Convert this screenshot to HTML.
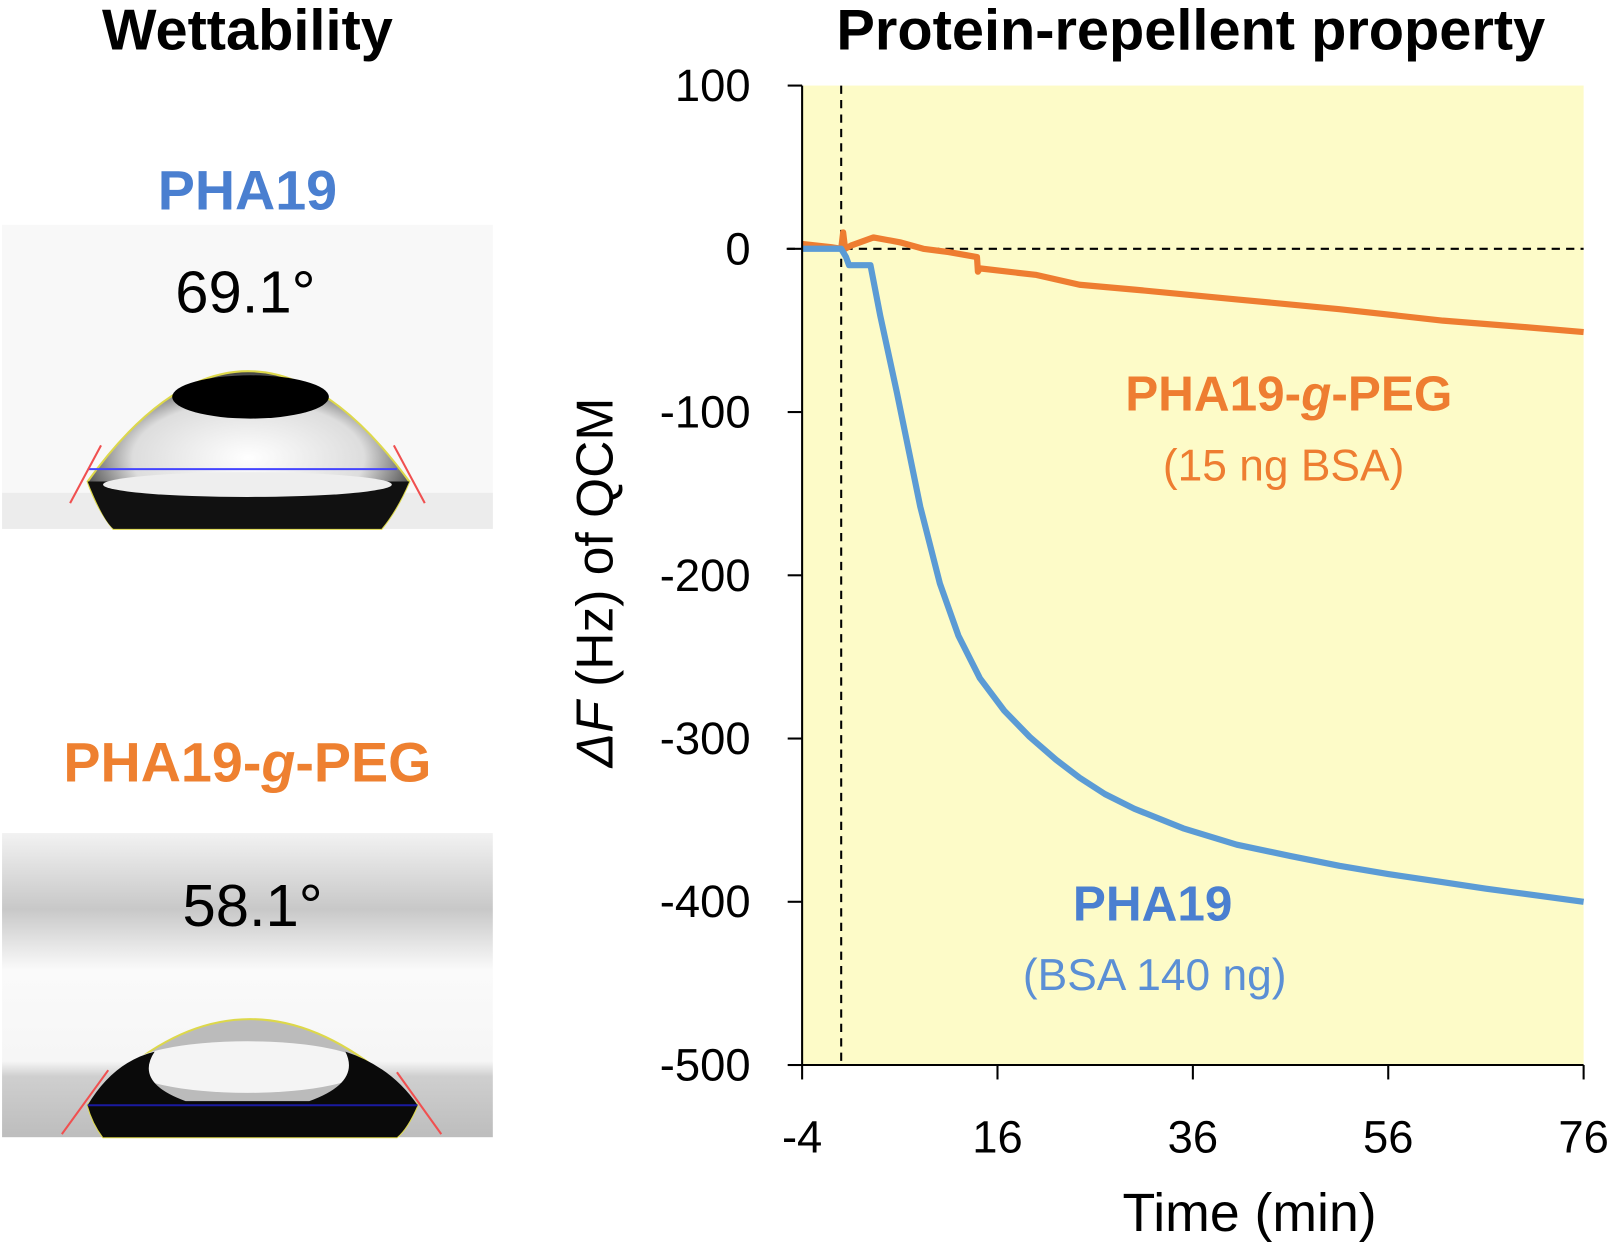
<!DOCTYPE html>
<html><head><meta charset="utf-8"><style>
body{margin:0;background:#fff;width:1615px;height:1248px;overflow:hidden}
svg{display:block;font-family:"Liberation Sans",sans-serif}
</style></head><body>
<svg width="1615" height="1248" viewBox="0 0 1615 1248">
<defs>
<radialGradient id="drop1" cx="0.5" cy="0.55" r="0.6"><stop offset="0" stop-color="#fff"/><stop offset="0.6" stop-color="#ddd"/><stop offset="1" stop-color="#111"/></radialGradient>
<linearGradient id="bg2" x1="0" y1="0" x2="0" y2="1"><stop offset="0" stop-color="#f2f2f2"/><stop offset="0.25" stop-color="#c8c8c8"/><stop offset="0.45" stop-color="#fafafa"/><stop offset="0.75" stop-color="#f6f6f6"/><stop offset="0.8" stop-color="#cfcfcf"/><stop offset="1" stop-color="#bdbdbd"/></linearGradient>
</defs>
<g transform="scale(1.031)">
<text x="240" y="48" text-anchor="middle" font-size="56" font-weight="bold">Wettability</text>
<text x="1155" y="48" text-anchor="middle" font-size="56" font-weight="bold">Protein-repellent property</text>
<text x="240" y="203" text-anchor="middle" font-size="54" font-weight="bold" fill="#4a7fd0">PHA19</text>
<text x="240" y="758" text-anchor="middle" font-size="54" font-weight="bold" fill="#ee8030">PHA19-<tspan font-style="italic">g</tspan>-PEG</text>
<g>
<rect x="2" y="218" width="476" height="295" fill="#f8f8f8"/>
<rect x="2" y="478" width="476" height="35" fill="#ececec"/>
<path d="M85 467 Q240 253 397 467 Q385 495 370 513 L110 513 Q95 495 85 467Z" fill="url(#drop1)" stroke="#ddd84a" stroke-width="2"/>
<ellipse cx="243" cy="385" rx="76" ry="21" fill="#000"/>
<path d="M85 467 Q100 505 110 513 L370 513 Q385 495 397 467Z" fill="#111"/>
<ellipse cx="240" cy="470" rx="140" ry="12" fill="#eee"/>
<line x1="85" y1="455" x2="385" y2="455" stroke="#4444ff" stroke-width="2"/>
<line x1="68" y1="488" x2="98" y2="432" stroke="#f05050" stroke-width="2"/>
<line x1="412" y1="488" x2="382" y2="432" stroke="#f05050" stroke-width="2"/>
<text x="238" y="303" text-anchor="middle" font-size="58">69.1°</text>
</g>
<g>
<rect x="2" y="808" width="476" height="295" fill="url(#bg2)"/>
<path d="M85 1072 Q240 905 405 1072 Q395 1095 385 1103 L100 1103 Q90 1090 85 1072Z" fill="#bbb" stroke="#ddd84a" stroke-width="2"/>
<ellipse cx="240" cy="1035" rx="115" ry="25" fill="#f4f4f4"/>
<path d="M85 1072 Q110 1030 150 1020 Q130 1050 180 1068 L300 1068 Q350 1050 335 1020 Q380 1035 405 1072 Q395 1095 385 1103 L100 1103 Q90 1090 85 1072Z" fill="#0a0a0a"/>
<line x1="85" y1="1072" x2="405" y2="1072" stroke="#1a1aa0" stroke-width="2"/>
<line x1="60" y1="1100" x2="105" y2="1038" stroke="#f05050" stroke-width="2"/>
<line x1="428" y1="1100" x2="385" y2="1040" stroke="#f05050" stroke-width="2"/>
<text x="245" y="898" text-anchor="middle" font-size="58">58.1°</text>
</g>
<g id="chart"></g>
</g>
</svg>
<script>
const xTicks=[-4,16,36,56,76];
const yTicks=[100,0,-100,-200,-300,-400,-500];
const blueT=[-4,0,0.5,0.8,3,4,5.7,8.1,10.1,12,14.2,16.7,19.3,22,24.4,27,30,35,40.5,46,51,56,61.6,66,71,76];
const blueV=[0,0,-5,-10,-10,-41,-88,-158,-205,-237,-263,-283,-299,-313,-324,-334,-343,-355,-365,-372,-378,-383,-388,-392,-396,-400];
const orangeT=[-4,-1,0,0.2,0.4,1,3.3,6,8.4,11,13.9,14,14.2,20,24.4,30,40.5,51,61.6,70,76];
const orangeV=[3,1,0,10,0,2,7,4,0,-2,-5,-14,-12,-16,-22,-25,-31,-37,-44,-48,-51];
const X0=778,X1=1536,Y0=83,Y1=1033;
const sx=t=>X0+(t+4)/80*(X1-X0);
const sy=v=>Y0+(100-v)/600*(Y1-Y0);
const g=document.getElementById('chart');
const NS='http://www.w3.org/2000/svg';
function mk(tag,attrs){const e=document.createElementNS(NS,tag);for(const k in attrs)e.setAttribute(k,attrs[k]);g.appendChild(e);return e;}
let e=mk('rect',{x:X0,y:Y0,width:X1-X0,height:Y1-Y0,fill:'#fdfbc8'});


e=mk('line',{x1:sx(0),y1:Y0,x2:sx(0),y2:Y1,stroke:'#000','stroke-width':2,'stroke-dasharray':'8,6'});


e=mk('line',{x1:X0-15,y1:sy(0),x2:X1,y2:sy(0),stroke:'#000','stroke-width':2,'stroke-dasharray':'8,6'});


function series(T,V,col,name){let d='';T.forEach((t,i)=>{d+=(i?'L':'M')+sx(t).toFixed(1)+' '+sy(V[i]).toFixed(1);});
const p=mk('path',{d:d,fill:'none',stroke:col,'stroke-width':6,'stroke-linejoin':'round'});

}
series(orangeT,orangeV,'#ee7d31','series-pha19-peg');
series(blueT,blueV,'#5b9bd5','series-pha19');
e=mk('path',{d:`M${X0} ${Y0}V${Y1}H${X1}`,fill:'none',stroke:'#000','stroke-width':2});


yTicks.forEach(v=>{mk('line',{x1:X0-14,y1:sy(v),x2:X0,y2:sy(v),stroke:'#000','stroke-width':2});
const t=mk('text',{x:728,y:sy(v)+15,'text-anchor':'end','font-size':44});t.textContent=v;

});
xTicks.forEach(v=>{mk('line',{x1:sx(v),y1:Y1,x2:sx(v),y2:Y1+14,stroke:'#000','stroke-width':2});
const t=mk('text',{x:sx(v),y:1118,'text-anchor':'middle','font-size':44});t.textContent=v;

});
function txt(x,y,s,attrs,name){const t=mk('text',Object.assign({x:x,y:y,'text-anchor':'middle'},attrs));t.innerHTML=s;

}
txt(1212,1194,'Time (min)',{'font-size':52},'x-axis-title');
txt(0,0,'<tspan font-style="italic">ΔF</tspan> (Hz) of QCM',{'font-size':50,transform:'translate(594,565) rotate(-90)'},'y-axis-title');
txt(1250,398,'PHA19-<tspan font-style="italic">g</tspan>-PEG',{'font-size':48,'font-weight':'bold',fill:'#ee7d31'},'label-pha19-peg');
txt(1245,466,'(15 ng BSA)',{'font-size':43,fill:'#ee7d31'},'label-peg-mass');
txt(1118,893,'PHA19',{'font-size':48,'font-weight':'bold',fill:'#4a7fd0'},'label-pha19');
txt(1120,960,'(BSA 140 ng)',{'font-size':43,fill:'#5b8fd5'},'label-pha19-mass');
</script>
</body></html>
